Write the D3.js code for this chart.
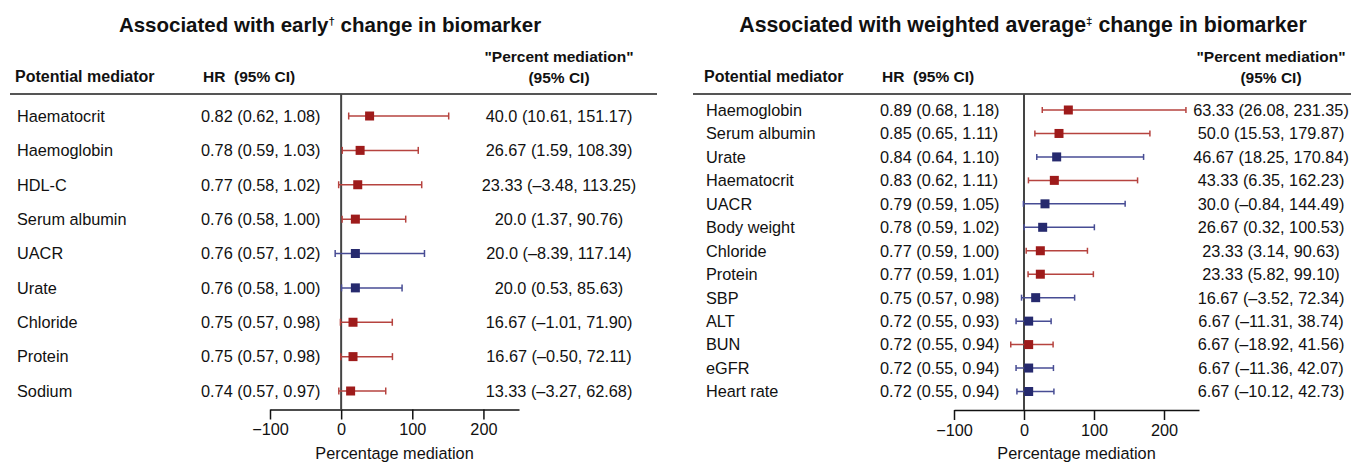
<!DOCTYPE html>
<html>
<head>
<meta charset="utf-8">
<script src="https://cdn.jsdelivr.net/npm/d3@7"></script>
<style>
  body { margin: 0; background: #fff; }
  svg text { font-family: "Liberation Sans", Arial, Helvetica, sans-serif; fill: #111; }
</style>
</head>
<body>
<div id="vis"></div>
<script>
// Left panel: early change in biomarker
const earlyMediators = ["Haematocrit", "Haemoglobin", "HDL-C", "Serum albumin", "UACR", "Urate", "Chloride", "Protein", "Sodium"]
const earlyHR = ["0.82 (0.62, 1.08)", "0.78 (0.59, 1.03)", "0.77 (0.58, 1.02)", "0.76 (0.58, 1.00)", "0.76 (0.57, 1.02)",
                 "0.76 (0.58, 1.00)", "0.75 (0.57, 0.98)", "0.75 (0.57, 0.98)", "0.74 (0.57, 0.97)"]
const earlyPct = [40.0, 26.67, 23.33, 20.0, 20.0, 20.0, 16.67, 16.67, 13.33]
const earlyLow = [10.61, 1.59, -3.48, 1.37, -8.39, 0.53, -1.01, -0.50, -3.27]
const earlyHigh = [151.17, 108.39, 113.25, 90.76, 117.14, 85.63, 71.90, 72.11, 62.68]
const earlyPctLabel = ["40.0 (10.61, 151.17)", "26.67 (1.59, 108.39)", "23.33 (–3.48, 113.25)", "20.0 (1.37, 90.76)",
                       "20.0 (–8.39, 117.14)", "20.0 (0.53, 85.63)", "16.67 (–1.01, 71.90)", "16.67 (–0.50, 72.11)",
                       "13.33 (–3.27, 62.68)"]
const earlyGroup = ["inc", "inc", "inc", "inc", "dec", "dec", "inc", "inc", "inc"]

// Right panel: weighted average change in biomarker
const avgMediators = ["Haemoglobin", "Serum albumin", "Urate", "Haematocrit", "UACR", "Body weight", "Chloride",
                      "Protein", "SBP", "ALT", "BUN", "eGFR", "Heart rate"]
const avgHR = ["0.89 (0.68, 1.18)", "0.85 (0.65, 1.11)", "0.84 (0.64, 1.10)", "0.83 (0.62, 1.11)", "0.79 (0.59, 1.05)",
               "0.78 (0.59, 1.02)", "0.77 (0.59, 1.00)", "0.77 (0.59, 1.01)", "0.75 (0.57, 0.98)", "0.72 (0.55, 0.93)",
               "0.72 (0.55, 0.94)", "0.72 (0.55, 0.94)", "0.72 (0.55, 0.94)"]
const avgPct = [63.33, 50.0, 46.67, 43.33, 30.0, 26.67, 23.33, 23.33, 16.67, 6.67, 6.67, 6.67, 6.67]
const avgLow = [26.08, 15.53, 18.25, 6.35, -0.84, 0.32, 3.14, 5.82, -3.52, -11.31, -18.92, -11.36, -10.12]
const avgHigh = [231.35, 179.87, 170.84, 162.23, 144.49, 100.53, 90.63, 99.10, 72.34, 38.74, 41.56, 42.07, 42.73]
const avgPctLabel = ["63.33 (26.08, 231.35)", "50.0 (15.53, 179.87)", "46.67 (18.25, 170.84)", "43.33 (6.35, 162.23)",
                     "30.0 (–0.84, 144.49)", "26.67 (0.32, 100.53)", "23.33 (3.14, 90.63)", "23.33 (5.82, 99.10)",
                     "16.67 (–3.52, 72.34)", "6.67 (–11.31, 38.74)", "6.67 (–18.92, 41.56)", "6.67 (–11.36, 42.07)",
                     "6.67 (–10.12, 42.73)"]
const avgGroup = ["inc", "inc", "dec", "inc", "dec", "dec", "inc", "inc", "dec", "dec", "inc", "dec", "dec"]

const xDomain = [-100, 250]
const xTicks = [-100, 0, 100, 200]

const markColour = d3.scaleOrdinal().domain(["inc", "dec"]).range(["#9e1b1b", "#262a6e"])
const lineColour = d3.scaleOrdinal().domain(["inc", "dec"]).range(["#b6433f", "#474c94"])

const svg = d3.select("#vis")
    .append("svg")
    .attr("width", 1353)
    .attr("height", 462)

function drawPanel(p) {
    const g = svg.append("g")
    const rows = p.names.map((n, i) => ({
        name: n, hr: p.hr[i], pct: p.pct[i], lo: p.low[i], hi: p.high[i], label: p.pctLabel[i], group: p.group[i]
    }))

    const x = d3.scaleLinear().domain(xDomain).range(p.xRange)
    const y = d3.scalePoint().domain(p.names).range(p.yRange)

    // title
    const title = g.append("text")
        .attr("x", p.titleX).attr("y", 32)
        .attr("text-anchor", "middle")
        .style("font-size", p.titleSize + "px").style("font-weight", "bold")
    title.append("tspan").text(p.titleA)
    title.append("tspan").text(p.mark).attr("dy", -7).style("font-size", "11.5px")
    title.append("tspan").text(" " + p.titleB).attr("dy", 7)

    // column headers
    const hdr = g.append("g").style("font-size", "15.5px").style("font-weight", "bold")
    hdr.append("text").attr("x", p.nameX - 2).attr("y", 82).style("font-size", "16px").text("Potential mediator")
    hdr.append("text").attr("x", p.hrX + 2).attr("y", 82).attr("xml:space", "preserve").text("HR  (95% CI)")
    hdr.append("text").attr("x", p.pctX).attr("y", 62).attr("text-anchor", "middle").text("\"Percent mediation\"")
    hdr.append("text").attr("x", p.pctX).attr("y", 83).attr("text-anchor", "middle").text("(95% CI)")

    g.append("line")
        .attr("x1", p.ruleX[0]).attr("x2", p.ruleX[1])
        .attr("y1", 94).attr("y2", 94)
        .style("stroke", "#555").style("stroke-width", 2)

    // axis
    const axisY = p.yRange[1] + 18.5
    const axis = g.append("g")
        .attr("transform", `translate(0,${axisY})`)
        .call(d3.axisBottom(x).tickValues(xTicks).tickSize(10).tickPadding(4).tickSizeOuter(0))
    axis.select(".domain").style("stroke", "#111").style("stroke-width", 1.5)
    axis.selectAll(".tick line").style("stroke", "#111").style("stroke-width", 1.5)
    axis.selectAll(".tick text").style("font-size", "16.3px").style("font-family", "Liberation Sans, Arial, sans-serif").attr("fill", "#111")

    g.append("text")
        .attr("x", (p.xRange[0] + p.xRange[1]) / 2).attr("y", 459)
        .attr("text-anchor", "middle")
        .style("font-size", "16.3px")
        .text("Percentage mediation")

    // zero line
    g.append("line")
        .attr("x1", x(0)).attr("x2", x(0))
        .attr("y1", 94).attr("y2", axisY)
        .style("stroke", "#444").style("stroke-width", 2)

    // row texts
    const txt = g.append("g").style("font-size", "16.3px")
    txt.selectAll(".nm").data(rows).enter().append("text")
        .attr("x", p.nameX).attr("y", d => y(d.name)).attr("dy", "0.36em").text(d => d.name)
    txt.selectAll(".hr").data(rows).enter().append("text")
        .attr("x", p.hrX).attr("y", d => y(d.name)).attr("dy", "0.36em").text(d => d.hr)
    txt.selectAll(".pc").data(rows).enter().append("text")
        .attr("x", p.pctX).attr("y", d => y(d.name)).attr("dy", "0.36em")
        .attr("text-anchor", "middle").text(d => d.label)

    // error bars
    const bars = g.selectAll(".bar").data(rows).enter().append("g")
        .attr("transform", d => `translate(0,${y(d.name)})`)
    bars.append("line")
        .attr("x1", d => x(d.lo)).attr("x2", d => x(d.hi))
        .style("stroke", d => lineColour(d.group)).style("stroke-width", 1.5)
    bars.append("line")
        .attr("x1", d => x(d.lo)).attr("x2", d => x(d.lo))
        .attr("y1", -p.cap).attr("y2", p.cap)
        .style("stroke", d => lineColour(d.group)).style("stroke-width", 1.5)
    bars.append("line")
        .attr("x1", d => x(d.hi)).attr("x2", d => x(d.hi))
        .attr("y1", -p.cap).attr("y2", p.cap)
        .style("stroke", d => lineColour(d.group)).style("stroke-width", 1.5)
    bars.append("rect")
        .attr("x", d => x(d.pct) - 4.5).attr("y", -4.5)
        .attr("width", 9).attr("height", 9)
        .style("fill", d => markColour(d.group))
}

drawPanel({
    names: earlyMediators, hr: earlyHR, pct: earlyPct, low: earlyLow, high: earlyHigh,
    pctLabel: earlyPctLabel, group: earlyGroup,
    titleA: "Associated with early", mark: "†", titleB: "change in biomarker", titleX: 330, titleSize: 20.5,
    xRange: [270, 519], yRange: [116, 391], nameX: 17, hrX: 201, pctX: 559,
    ruleX: [10, 657], cap: 3.5
})

drawPanel({
    names: avgMediators, hr: avgHR, pct: avgPct, low: avgLow, high: avgHigh,
    pctLabel: avgPctLabel, group: avgGroup,
    titleA: "Associated with weighted average", mark: "‡", titleB: "change in biomarker", titleX: 1023, titleSize: 21.3,
    xRange: [954, 1199], yRange: [110, 391.5], nameX: 706, hrX: 880, pctX: 1271,
    ruleX: [693, 1351], cap: 3
})
</script>
</body>
</html>
